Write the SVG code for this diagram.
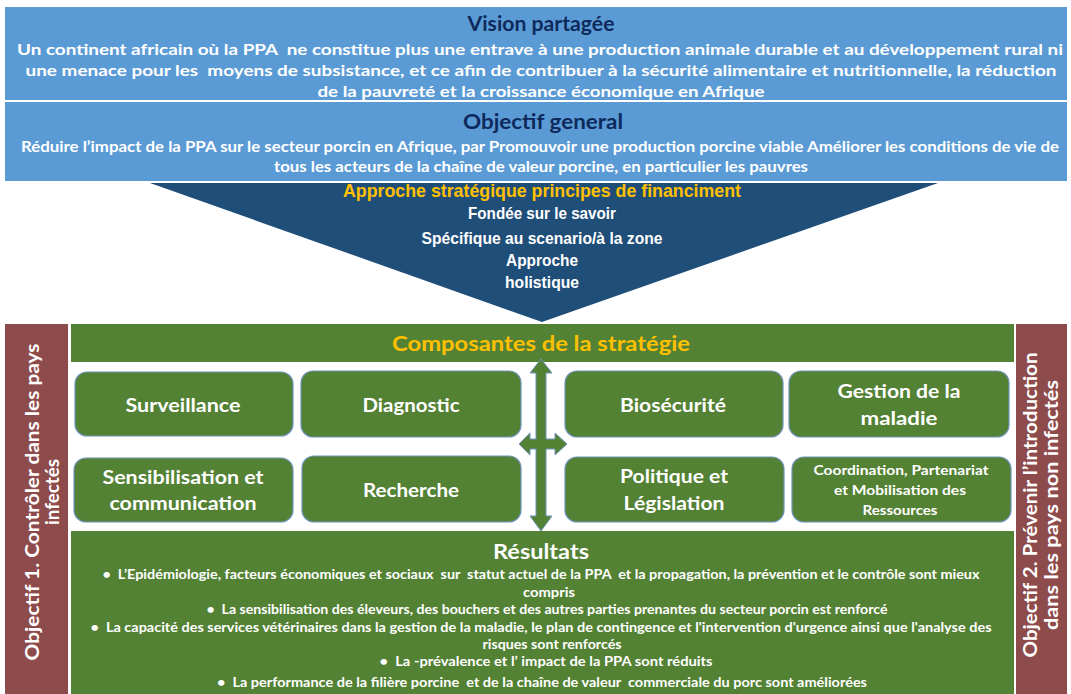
<svg xmlns="http://www.w3.org/2000/svg" width="1071" height="694" viewBox="0 0 1071 694">
<style>
text{font-family:Lato,"Liberation Sans",sans-serif;font-weight:bold;text-anchor:middle;white-space:pre}
.w{fill:#ffffff}
.navy{fill:#0e2a5c;font-size:20px}
.v{font-size:16px}
.o{font-size:15px}
.tri{font-family:"Liberation Sans Narrow","Liberation Sans",sans-serif;font-size:17px;fill:#ffffff}
.box{fill:#548235;stroke:#6f93ba;stroke-width:1.2}
.bl{font-size:19px;fill:#ffffff}
.res{font-size:13px;fill:#ffffff}
.side{fill:#8e4b4b}
.st{font-size:19px;fill:#ffffff}
</style>
<rect width="1071" height="694" fill="#ffffff"/>
<g id="vision">
<rect x="5" y="7" width="1062" height="93" fill="#5b9bd5"/>
<text class="navy" x="541" y="31" textLength="147" lengthAdjust="spacingAndGlyphs">Vision partagée</text>
<text class="w v" x="540" y="55" textLength="1046" lengthAdjust="spacingAndGlyphs">Un continent africain où la PPA  ne constitue plus une entrave à une production animale durable et au développement rural ni</text>
<text class="w v" x="541" y="76" textLength="1031" lengthAdjust="spacingAndGlyphs">une menace pour les  moyens de subsistance, et ce afin de contribuer à la sécurité alimentaire et nutritionnelle, la réduction</text>
<text class="w v" x="541" y="97" textLength="447" lengthAdjust="spacingAndGlyphs">de la pauvreté et la croissance économique en Afrique</text>
</g>
<g id="objectif-general">
<rect x="5" y="102" width="1062" height="79" fill="#5b9bd5"/>
<text class="navy" x="543" y="129" textLength="160" lengthAdjust="spacingAndGlyphs">Objectif general</text>
<text class="w o" x="540" y="152" textLength="1038" lengthAdjust="spacingAndGlyphs">Réduire l’impact de la PPA sur le secteur porcin en Afrique, par Promouvoir une production porcine viable Améliorer les conditions de vie de</text>
<text class="w o" x="541" y="172" textLength="534" lengthAdjust="spacingAndGlyphs">tous les acteurs de la chaîne de valeur porcine, en particulier les pauvres</text>
</g>
<g id="approche">
<polygon points="150,183 938,183 542,322" fill="#1f4e79"/>
<text class="tri" x="542" y="197" style="fill:#ffc000;font-size:19px" textLength="398" lengthAdjust="spacingAndGlyphs">Approche stratégique principes de financiment</text>
<text class="tri" x="542" y="219" textLength="148" lengthAdjust="spacingAndGlyphs">Fondée sur le savoir</text>
<text class="tri" x="542" y="244" textLength="241" lengthAdjust="spacingAndGlyphs">Spécifique au scenario/à la zone</text>
<text class="tri" x="542" y="266" textLength="72" lengthAdjust="spacingAndGlyphs">Approche</text>
<text class="tri" x="542" y="288" textLength="74" lengthAdjust="spacingAndGlyphs">holistique</text>
</g>
<g id="objectif-1">
<rect class="side" x="5" y="324" width="63" height="370"/>
<text class="st" transform="translate(39,502) rotate(-90)" textLength="317" lengthAdjust="spacingAndGlyphs">Objectif 1. Contrôler dans les pays</text>
<text class="st" transform="translate(59,492) rotate(-90)" textLength="66" lengthAdjust="spacingAndGlyphs">infectés</text>
</g>
<g id="objectif-2">
<rect class="side" x="1016" y="324" width="51" height="370"/>
<text class="st" transform="translate(1037,505) rotate(-90)" textLength="305" lengthAdjust="spacingAndGlyphs">Objectif 2. Prévenir l’introduction</text>
<text class="st" transform="translate(1058,505) rotate(-90)" textLength="250" lengthAdjust="spacingAndGlyphs">dans les pays non infectés</text>
</g>
<g id="composantes">
<rect x="71" y="324" width="943" height="38" fill="#548235"/>
<text x="541" y="351" style="fill:#ffc000;font-size:21px" textLength="298" lengthAdjust="spacingAndGlyphs">Composantes de la stratégie</text>
</g>
<g id="surveillance">
<rect class="box" x="75" y="372" width="218" height="64" rx="12"/>
<text class="bl" x="183" y="412" textLength="115" lengthAdjust="spacingAndGlyphs">Surveillance</text>
</g>
<g id="diagnostic">
<rect class="box" x="301" y="371" width="220" height="66" rx="12"/>
<text class="bl" x="411" y="412" textLength="97" lengthAdjust="spacingAndGlyphs">Diagnostic</text>
</g>
<g id="sensibilisation">
<rect class="box" x="74" y="458" width="219" height="64" rx="12"/>
<text class="bl" x="183" y="484" textLength="161" lengthAdjust="spacingAndGlyphs">Sensibilisation et</text>
<text class="bl" x="183" y="510" textLength="147" lengthAdjust="spacingAndGlyphs">communication</text>
</g>
<g id="recherche">
<rect class="box" x="302" y="456" width="219" height="66" rx="12"/>
<text class="bl" x="411" y="497" textLength="96" lengthAdjust="spacingAndGlyphs">Recherche</text>
</g>
<g id="biosecurite">
<rect class="box" x="565" y="371" width="218" height="66" rx="12"/>
<text class="bl" x="673" y="412" textLength="106" lengthAdjust="spacingAndGlyphs">Biosécurité</text>
</g>
<g id="gestion">
<rect class="box" x="789" y="371" width="220" height="66" rx="12"/>
<text class="bl" x="899" y="398" textLength="123" lengthAdjust="spacingAndGlyphs">Gestion de la</text>
<text class="bl" x="899" y="425" textLength="77" lengthAdjust="spacingAndGlyphs">maladie</text>
</g>
<g id="politique">
<rect class="box" x="565" y="457" width="219" height="65" rx="12"/>
<text class="bl" x="674" y="483" textLength="108" lengthAdjust="spacingAndGlyphs">Politique et</text>
<text class="bl" x="674" y="510" textLength="101" lengthAdjust="spacingAndGlyphs">Législation</text>
</g>
<g id="coordination">
<rect class="box" x="792" y="457" width="219" height="65" rx="12"/>
<text x="901" y="475" style="fill:#fff;font-size:13px" textLength="175" lengthAdjust="spacingAndGlyphs">Coordination, Partenariat</text>
<text x="900" y="495" style="fill:#fff;font-size:13px" textLength="132" lengthAdjust="spacingAndGlyphs">et Mobilisation des</text>
<text x="900" y="515" style="fill:#fff;font-size:13px" textLength="75" lengthAdjust="spacingAndGlyphs">Ressources</text>
</g>
<g id="connectors">
<path d="M541,359 L552,373 L546,373 L546,439 L555,439 L555,433 L567,444 L555,455 L555,449 L546,449 L546,516 L552,516 L541,531 L530,516 L536,516 L536,449 L530,449 L530,455 L519,444 L530,433 L530,439 L536,439 L536,373 L530,373 Z" fill="#548235" stroke="#6f93ba" stroke-width="1"/>
</g>
<g id="resultats">
<rect x="71" y="531" width="943" height="163" fill="#548235"/>
<text x="541" y="559" style="fill:#fff;font-size:20px" textLength="96" lengthAdjust="spacingAndGlyphs">Résultats</text>
<text class="res" x="541" y="579" textLength="877" lengthAdjust="spacingAndGlyphs">•  L’Epidémiologie, facteurs économiques et sociaux  sur  statut actuel de la PPA  et la propagation, la prévention et le contrôle sont mieux</text>
<text class="res" x="549" y="597" textLength="52" lengthAdjust="spacingAndGlyphs">compris</text>
<text class="res" x="547" y="614" textLength="681" lengthAdjust="spacingAndGlyphs">•  La sensibilisation des éleveurs, des bouchers et des autres parties prenantes du secteur porcin est renforcé</text>
<text class="res" x="541" y="632" textLength="901" lengthAdjust="spacingAndGlyphs">•  La capacité des services vétérinaires dans la gestion de la maladie, le plan de contingence et l'intervention d'urgence ainsi que l'analyse des</text>
<text class="res" x="552" y="649" textLength="139" lengthAdjust="spacingAndGlyphs">risques sont renforcés</text>
<text class="res" x="546" y="666" textLength="333" lengthAdjust="spacingAndGlyphs">•  La -prévalence et l’ impact de la PPA sont réduits</text>
<text class="res" x="542" y="687" textLength="650" lengthAdjust="spacingAndGlyphs">•  La performance de la filière porcine  et de la chaîne de valeur  commerciale du porc sont améliorées</text>
</g>
</svg>
